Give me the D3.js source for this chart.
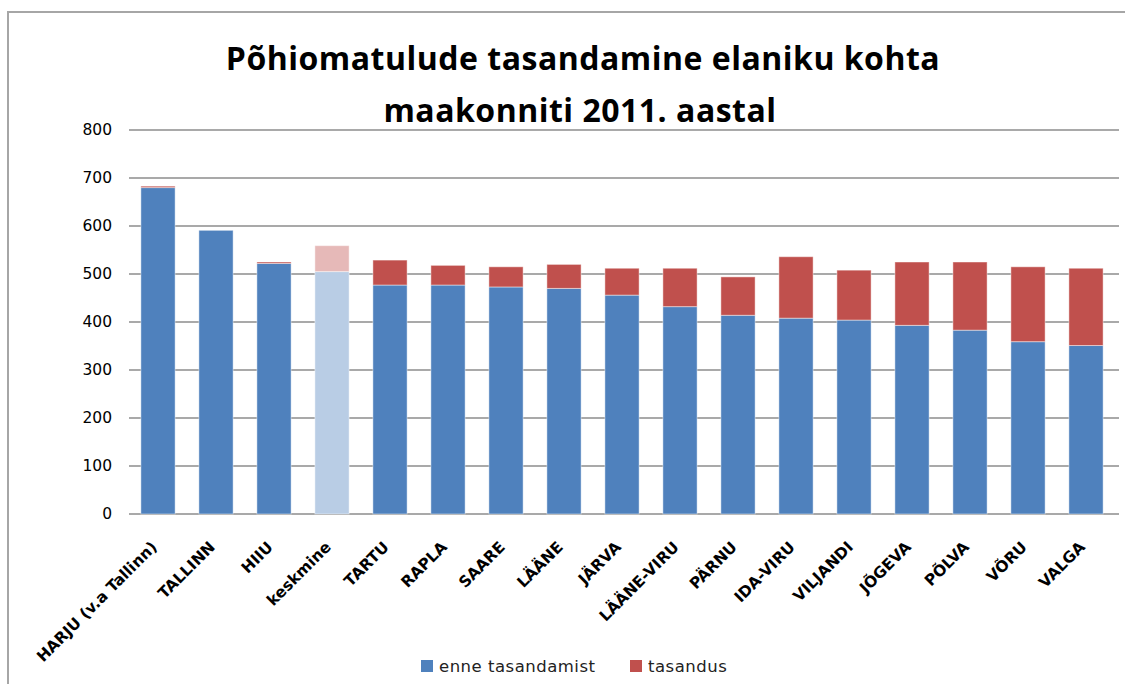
<!DOCTYPE html>
<html>
<head>
<meta charset="utf-8">
<script src="https://cdn.jsdelivr.net/npm/d3@7"></script>
<style>
  body { margin: 0; background: #fff; overflow: hidden; }
  svg { display: block; }
</style>
</head>
<body>
<svg id="chart" width="1125" height="684" viewBox="0 0 1125 684"></svg>
<script>
// data
const categories = ["HARJU (v.a Tallinn)", "TALLINN", "HIIU", "keskmine", "TARTU", "RAPLA", "SAARE", "LÄÄNE",
  "JÄRVA", "LÄÄNE-VIRU", "PÄRNU", "IDA-VIRU", "VILJANDI", "JÕGEVA", "PÕLVA", "VÕRU", "VALGA"];
const enneTasandamist = [680, 591, 522, 505, 477, 477, 473, 470, 456, 432, 414, 408, 404, 393, 383, 359, 351];
const tasandus = [3, 0, 3, 54, 52, 41, 42, 50, 56, 80, 80, 128, 104, 132, 142, 156, 161];
const seriesNames = ["enne tasandamist", "tasandus"];
const yTicks = [0, 100, 200, 300, 400, 500, 600, 700, 800];
const highlighted = "keskmine";

const colors = { "enne tasandamist": "#4F81BD", "tasandus": "#C0504D" };
const lightColors = { "enne tasandamist": "#B9CDE5", "tasandus": "#E6B9B8" };

const width = 1125, height = 684;
const margin = { top: 130, right: 10, bottom: 170, left: 129 };
const innerWidth = 986, innerHeight = 384;

const svg = d3.select("#chart");

// chart frame (only top and left edges show)
svg.append("path")
  .attr("d", `M8,${height} V12 H${width}`)
  .attr("fill", "none").attr("stroke", "#a6a6a6").attr("stroke-width", 2);

// title
const title = svg.append("g")
  .attr("font-family", "'Open Sans', Lato, sans-serif")
  .attr("font-weight", "bold")
  .attr("font-size", 32)
  .attr("letter-spacing", 0.5)
  .attr("text-anchor", "middle")
  .attr("fill", "#000");
title.append("text").attr("x", 583).attr("y", 70).text("Põhiomatulude tasandamine elaniku kohta");
title.append("text").attr("x", 580).attr("y", 122).text("maakonniti 2011. aastal");

const table = categories.map((c, i) => ({
  category: c,
  "enne tasandamist": enneTasandamist[i],
  "tasandus": tasandus[i]
}));
const stacked = d3.stack().keys(seriesNames)(table);

const xScale = d3.scaleBand()
  .domain(categories)
  .range([0, innerWidth])
  .paddingInner(0.41)
  .paddingOuter(0.205);

const yScale = d3.scaleLinear()
  .domain([0, 800])
  .range([innerHeight, 0]);

const innerChart = svg.append("g")
  .attr("transform", `translate(${margin.left}, ${margin.top})`);

// gridlines
innerChart.append("g")
  .selectAll("line")
  .data(yTicks)
  .join("line")
    .attr("x1", 0).attr("x2", innerWidth + 4)
    .attr("y1", d => yScale(d)).attr("y2", d => yScale(d))
    .attr("stroke", "#8c8c8c").attr("stroke-width", 1.5);

// y axis labels
const leftAxis = d3.axisLeft(yScale).tickValues(yTicks).tickSize(0).tickPadding(17);
innerChart.append("g")
  .call(leftAxis)
  .call(g => g.select(".domain").remove())
  .selectAll("text")
    .attr("font-family", "'DejaVu Sans', sans-serif")
    .attr("font-size", 15.5)
    .attr("fill", "#000");

// bars
innerChart.selectAll("g.series")
  .data(stacked)
  .join("g")
    .attr("class", "series")
  .selectAll("rect")
  .data(s => s.map(d => ({ key: s.key, d })))
  .join("rect")
    .attr("x", o => xScale(o.d.data.category))
    .attr("y", o => yScale(o.d[1]))
    .attr("width", xScale.bandwidth())
    .attr("height", o => Math.max(0, yScale(o.d[0]) - yScale(o.d[1])))
    .attr("fill", o => o.d.data.category === highlighted ? lightColors[o.key] : colors[o.key])
    .attr("stroke", "#ffffff").attr("stroke-opacity", 0.45).attr("stroke-width", 1);

// x labels, rotated
innerChart.append("g")
  .selectAll("text")
  .data(categories)
  .join("text")
    .attr("transform", d => `translate(${xScale(d) + xScale.bandwidth() / 2}, ${innerHeight + 34}) rotate(-45)`)
    .attr("text-anchor", "end")
    .attr("font-family", "'DejaVu Sans', sans-serif")
    .attr("font-weight", "bold")
    .attr("font-size", 15.5)
    .attr("fill", "#000")
    .text(d => d);

// legend
const legendItems = [
  { name: "enne tasandamist", x: 421 },
  { name: "tasandus", x: 630 }
];
const legend = svg.append("g");
const item = legend.selectAll("g")
  .data(legendItems)
  .join("g")
    .attr("transform", d => `translate(${d.x}, 660)`);
item.append("rect")
  .attr("width", 12).attr("height", 12)
  .attr("fill", d => colors[d.name]);
item.append("text")
  .attr("x", 18).attr("y", 12)
  .attr("font-family", "'DejaVu Sans', sans-serif")
  .attr("font-size", 16.5)
  .attr("letter-spacing", 0.5)
  .attr("fill", "#222")
  .text(d => d.name);
</script>
</body>
</html>
